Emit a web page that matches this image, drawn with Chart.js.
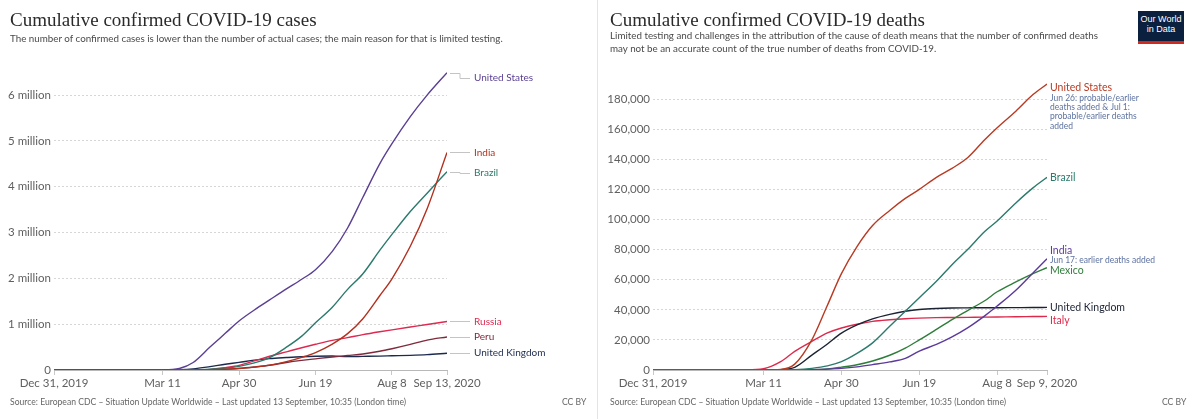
<!DOCTYPE html>
<html><head><meta charset="utf-8">
<script src="https://cdn.jsdelivr.net/npm/chart.js@4.4.1/dist/chart.umd.min.js"></script>
<style>
html,body{margin:0;padding:0;background:#fff;}
body{width:1200px;height:419px;position:relative;overflow:hidden;font-family:Lato,sans-serif;}
.title{position:absolute;top:8px;font-family:"Liberation Serif",serif;font-size:19px;line-height:24px;color:#2a2a2a;white-space:nowrap;}
.sub{position:absolute;font-size:9.8px;color:#4a4a4a;line-height:13px;white-space:nowrap;}
.foot{position:absolute;top:397px;font-size:8.6px;color:#666;white-space:nowrap;}
canvas{position:absolute;top:0;}
.sep{position:absolute;left:597px;top:0;width:1px;height:419px;background:#e4e4e4;}
.logo{position:absolute;left:1138px;top:11px;width:46px;height:27px;background:#0b1f3f;border-bottom:3px solid #cf2a20;color:#fff;font-family:"Liberation Sans",Arial,sans-serif;font-size:9px;line-height:10px;text-align:center;padding-top:3px;box-sizing:content-box;}
</style></head>
<body>
<div class="sep"></div>
<canvas id="c1" width="597" height="419" style="left:0"></canvas>
<canvas id="c2" width="600" height="419" style="left:600px"></canvas>
<div class="title" style="left:10px">Cumulative confirmed COVID-19 cases</div>
<div class="sub" style="left:10px;top:32px">The number of confirmed cases is lower than the number of actual cases; the main reason for that is limited testing.</div>
<div class="title" style="left:610px">Cumulative confirmed COVID-19 deaths</div>
<div class="sub" style="left:610px;top:29px">Limited testing and challenges in the attribution of the cause of death means that the number of confirmed deaths<br>may not be an accurate count of the true number of deaths from COVID-19.</div>
<div class="logo">Our World<br>in Data</div>
<div class="foot" style="left:10px">Source: European CDC – Situation Update Worldwide – Last updated 13 September, 10:35 (London time)</div>
<div class="foot" style="left:562px">CC BY</div>
<div class="foot" style="left:610px">Source: European CDC – Situation Update Worldwide – Last updated 13 September, 10:35 (London time)</div>
<div class="foot" style="left:1162px">CC BY</div>
<script>
// ---------- data: cases (days since Dec 31, 2019) ----------
const casesDays = [0, 31, 60, 71, 82, 91, 102, 112, 121, 131, 141, 152, 162, 171, 182, 192, 202, 213, 221, 233, 244, 257];
const casesUS     = [0, 7, 68, 1000, 33000, 164000, 500000, 800000, 1070000, 1310000, 1530000, 1770000, 1980000, 2190000, 2590000, 3100000, 3770000, 4500000, 4940000, 5530000, 6000000, 6490000];
const casesIndia  = [0, 1, 3, 62, 400, 1400, 7500, 18600, 33000, 62000, 106000, 182000, 276000, 381000, 567000, 794000, 1120000, 1620000, 1990000, 2700000, 3520000, 4750000];
const casesBrazil = [0, 0, 1, 34, 1500, 5700, 20000, 40000, 79000, 155000, 272000, 498000, 740000, 1030000, 1370000, 1760000, 2100000, 2610000, 2960000, 3460000, 3860000, 4330000];
const casesRussia = [0, 2, 2, 28, 400, 1800, 12000, 52000, 100000, 199000, 300000, 397000, 485000, 561000, 647000, 707000, 771000, 834000, 877000, 938000, 992000, 1060000];
const casesPeru   = [0, 0, 0, 11, 400, 1000, 6800, 17800, 36000, 67000, 104000, 164000, 209000, 244000, 285000, 316000, 349000, 408000, 464000, 558000, 652000, 722000];
const casesUK     = [0, 2, 23, 460, 5700, 25000, 74000, 125000, 166000, 215000, 249000, 272000, 290000, 300000, 305000, 292000, 297000, 303000, 310000, 320000, 335000, 366000];
const casesNames  = ['United States', 'India', 'Brazil', 'Russia', 'Peru', 'United Kingdom'];
const casesTickDays   = [0, 71, 121, 171, 221, 257];
const casesTickLabels = ['Dec 31, 2019', 'Mar 11', 'Apr 30', 'Jun 19', 'Aug 8', 'Sep 13, 2020'];
const casesYTicks     = [0, 1000000, 2000000, 3000000, 4000000, 5000000, 6000000];
const casesYLabels    = ['0', '1 million', '2 million', '3 million', '4 million', '5 million', '6 million'];

// ---------- data: deaths ----------
const deathsDays = [0, 31, 60, 71, 82, 91, 102, 112, 121, 131, 141, 152, 162, 171, 182, 192, 202, 213, 221, 233, 244, 253];
const deathsUS     = [0, 0, 1, 31, 390, 3900, 20000, 43000, 64000, 82000, 96000, 106000, 114000, 120000, 128000, 134000, 141000, 153000, 161000, 172000, 183000, 190000];
const deathsBrazil = [0, 0, 0, 0, 25, 200, 1100, 2700, 5500, 11000, 18000, 29000, 39000, 48000, 59000, 70000, 80000, 92000, 99000, 111000, 121000, 128000];
const deathsIndia  = [0, 0, 0, 1, 7, 35, 240, 590, 1100, 2100, 3600, 5400, 7700, 12600, 17000, 22000, 28000, 36000, 42500, 53000, 64500, 74000];
const deathsMexico = [0, 0, 0, 0, 0, 28, 200, 700, 1900, 3500, 6000, 9800, 14600, 20000, 27000, 33500, 39500, 46000, 52000, 58500, 64000, 68000];
const deathsUK     = [0, 0, 0, 8, 280, 1800, 9900, 17300, 24500, 30000, 34000, 37000, 39000, 40200, 40900, 41200, 41300, 41400, 41400, 41450, 41500, 41600];
const deathsItaly  = [0, 0, 29, 827, 5500, 12400, 19000, 24600, 27900, 30400, 32300, 33400, 34100, 34500, 34800, 34900, 35000, 35100, 35200, 35400, 35500, 35600];
const deathsNames  = ['United States', 'Brazil', 'India', 'Mexico', 'United Kingdom', 'Italy'];
const deathsNotes  = [['Jun 26: probable/earlier', 'deaths added & Jul 1:', 'probable/earlier deaths', 'added'], [], ['Jun 17: earlier deaths added'], [], [], []];
const deathsTickDays   = [0, 71, 121, 171, 221, 253];
const deathsTickLabels = ['Dec 31, 2019', 'Mar 11', 'Apr 30', 'Jun 19', 'Aug 8', 'Sep 9, 2020'];
const deathsYTicks     = [0, 20000, 40000, 60000, 80000, 100000, 120000, 140000, 160000, 180000];
const deathsYLabels    = ['0', '20,000', '40,000', '60,000', '80,000', '100,000', '120,000', '140,000', '160,000', '180,000'];

// ---------- styles ----------
const casesColors  = ['#5a3f93', '#b3301f', '#2b7a6c', '#dc2a50', '#7e2a3b', '#1c2a4e'];
const casesLabelDy = [5, 0, 1, 0, 0, 0];
const deathsColors = ['#b83a22', '#2b7a6c', '#5b3a9c', '#2f7d3a', '#1b2233', '#dd2a4c'];
const deathsLabelDy = [4, 0, -8, 3, 0, 4];

function series(days, vals) { return days.map((d, i) => ({ x: d, y: vals[i] })); }

const endLabels = {
  id: 'endLabels',
  afterDatasetsDraw(chart, args, o) {
    const ctx = chart.ctx, xs = chart.scales.x, ys = chart.scales.y;
    chart.data.datasets.forEach((ds, i) => {
      const last = ds.data[ds.data.length - 1];
      const ex = xs.getPixelForValue(last.x), ey = ys.getPixelForValue(last.y);
      const ly = ey + o.dy[i];
      ctx.save();
      let tx = ex + 3;
      if (o.connector) {
        ctx.strokeStyle = '#c4c4c4'; ctx.lineWidth = 1;
        ctx.beginPath();
        ctx.moveTo(ex + 3, Math.round(ey) + 0.5);
        ctx.lineTo(ex + 13, Math.round(ey) + 0.5);
        ctx.lineTo(ex + 13, Math.round(ly) + 0.5);
        ctx.lineTo(ex + 23, Math.round(ly) + 0.5);
        ctx.stroke();
        tx = ex + 27;
      }
      ctx.font = o.font; ctx.fillStyle = ds.borderColor; ctx.textBaseline = 'middle';
      ctx.fillText(o.names[i], tx, ly);
      const notes = (o.notes && o.notes[i]) || [];
      ctx.font = o.noteFont; ctx.fillStyle = '#5d72a0';
      notes.forEach((n, k) => ctx.fillText(n, tx, ly + 10 + k * 9.3));
      ctx.restore();
    });
  }
};

function makeChart(id, days, valsList, colors, names, tickDays, tickLabels, yTicks, yLabels, xMax, yMax, yWidth, padRight, labelOpts) {
  return new Chart(document.getElementById(id), {
    type: 'line',
    data: {
      datasets: valsList.map((v, i) => ({
        label: names[i], data: series(days, v), borderColor: colors[i], backgroundColor: colors[i],
        borderWidth: 1.4, pointRadius: 0, cubicInterpolationMode: 'monotone', fill: false
      }))
    },
    options: {
      responsive: false, animation: false, devicePixelRatio: 1,
      layout: { padding: { top: 69, right: padRight, bottom: 19, left: 0 } },
      plugins: { legend: { display: false }, tooltip: { enabled: false }, endLabels: labelOpts },
      scales: {
        x: {
          type: 'linear', min: 0, max: xMax,
          afterBuildTicks: s => { s.ticks = tickDays.map(v => ({ value: v })); },
          afterFit: s => { s.height = 30; },
          ticks: { autoSkip: false, maxRotation: 0, padding: 1, color: '#5f5f5f', font: { family: 'Lato', size: 11.5 },
                   callback: (v, i) => tickLabels[i] },
          grid: { drawOnChartArea: false, drawTicks: true, tickLength: 5, tickColor: '#c8c8c8' },
          border: { display: true, color: '#b8b8b8', width: 1 }
        },
        y: {
          min: 0, max: yMax,
          afterBuildTicks: s => { s.ticks = yTicks.map(v => ({ value: v })); },
          afterFit: s => { s.width = yWidth; },
          ticks: { padding: 3, color: '#5f5f5f', font: { family: 'Lato', size: 11.5 }, callback: (v, i) => yLabels[i] },
          grid: { color: '#d6d6d6', drawTicks: false, lineWidth: 1 },
          border: { display: false, dash: [2, 2] }
        }
      }
    },
    plugins: [endLabels]
  });
}

makeChart('c1', casesDays, [casesUS, casesIndia, casesBrazil, casesRussia, casesPeru, casesUK], casesColors, casesNames,
  casesTickDays, casesTickLabels, casesYTicks, casesYLabels, 257, 6570000, 54, 150,
  { names: casesNames, dy: casesLabelDy, connector: true, font: '10px Lato', noteFont: '8.5px Lato' });

makeChart('c2', deathsDays, [deathsUS, deathsBrazil, deathsIndia, deathsMexico, deathsUK, deathsItaly], deathsColors, deathsNames,
  deathsTickDays, deathsTickLabels, deathsYTicks, deathsYLabels, 253, 200000, 53, 153,
  { names: deathsNames, notes: deathsNotes, dy: deathsLabelDy, connector: false, font: '10.5px Lato', noteFont: '8.5px Lato' });
</script>
</body></html>
